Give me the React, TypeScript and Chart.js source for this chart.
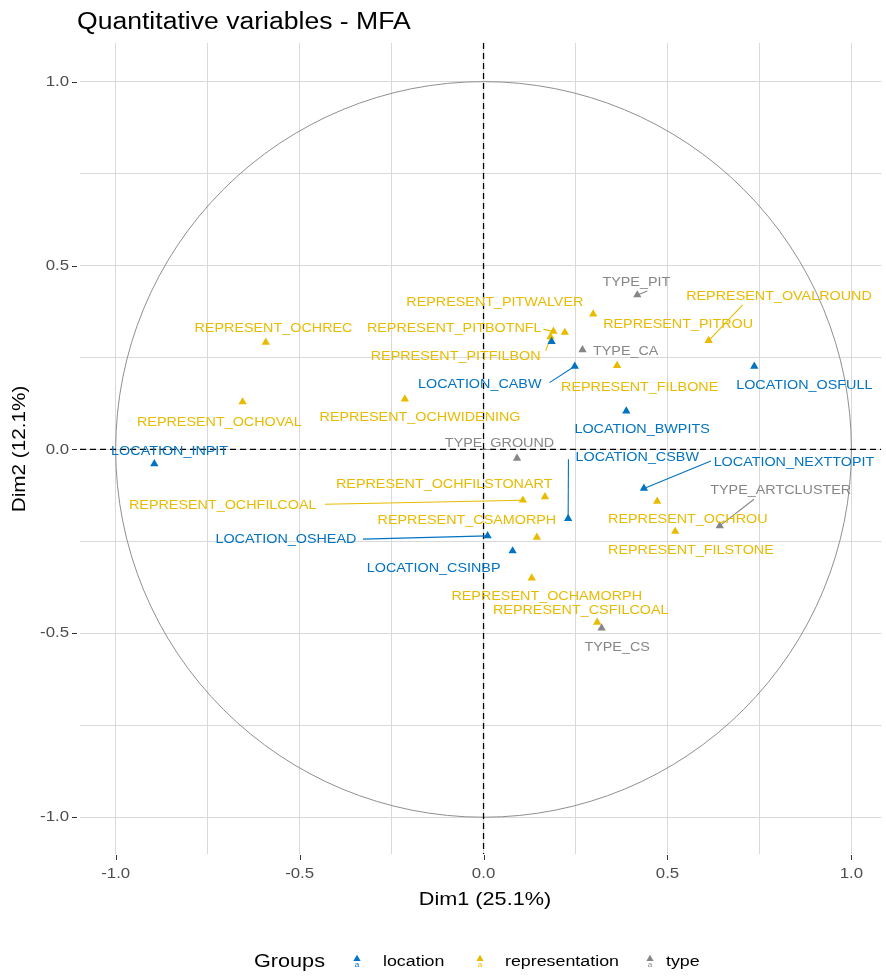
import React, { useEffect, useRef } from "react";
import { Chart, registerables } from "chart.js";

Chart.register(...registerables);

// ---------- data ----------
const locationNames = ["LOCATION_INPIT", "LOCATION_CABW", "LOCATION_OSFULL", "LOCATION_BWPITS", "LOCATION_CSBW", "LOCATION_NEXTTOPIT", "LOCATION_OSHEAD", "LOCATION_CSINBP", ""];
const locationDim1 = [-0.895, 0.248, 0.736, 0.388, 0.230, 0.436, 0.011, 0.079, 0.185];
const locationDim2 = [-0.039, 0.226, 0.226, 0.104, -0.188, -0.106, -0.235, -0.276, 0.293];

const representNames = ["REPRESENT_OCHREC", "REPRESENT_OCHOVAL", "REPRESENT_OCHWIDENING", "REPRESENT_PITWALVER", "REPRESENT_PITBOTNFL", "REPRESENT_PITFILBON", "REPRESENT_PITROU", "REPRESENT_OVALROUND", "REPRESENT_FILBONE", "REPRESENT_OCHFILSTONART", "REPRESENT_OCHFILCOAL", "REPRESENT_CSAMORPH", "REPRESENT_OCHROU", "REPRESENT_FILSTONE", "REPRESENT_OCHAMORPH", "REPRESENT_CSFILCOAL"];
const representDim1 = [-0.592, -0.655, -0.214, 0.221, 0.190, 0.182, 0.298, 0.612, 0.363, 0.167, 0.107, 0.145, 0.472, 0.521, 0.131, 0.309];
const representDim2 = [0.291, 0.129, 0.137, 0.318, 0.321, 0.306, 0.368, 0.296, 0.228, -0.129, -0.138, -0.239, -0.141, -0.223, -0.350, -0.470];

const typeNames = ["TYPE_PIT", "TYPE_CA", "TYPE_GROUND", "TYPE_ARTCLUSTER", "TYPE_CS"];
const typeDim1 = [0.418, 0.269, 0.091, 0.642, 0.321];
const typeDim2 = [0.420, 0.271, -0.024, -0.208, -0.486];

const groupNames = ["location", "representation", "type"];
const tickValues = [-1, -0.75, -0.5, -0.25, 0, 0.25, 0.5, 0.75, 1];
const majorTicks = [-1, -0.5, 0, 0.5, 1];

// ---------- layout (label placement, px offsets from the point) ----------
const labelOffsets: Record<string, [number, number]> = {
  LOCATION_INPIT: [15.3, -12],
  LOCATION_CABW: [-95, 18.3],
  LOCATION_OSFULL: [50, 19.3],
  LOCATION_BWPITS: [15.8, 18.6],
  LOCATION_CSBW: [69.1, -61],
  LOCATION_NEXTTOPIT: [150, -25.7],
  LOCATION_OSHEAD: [-201.7, 3.3],
  LOCATION_CSINBP: [-79, 17.5],
  REPRESENT_OCHREC: [7.7, -13.7],
  REPRESENT_OCHOVAL: [-23.2, 20.2],
  REPRESENT_OCHWIDENING: [15.2, 18.2],
  REPRESENT_PITWALVER: [-70, -30.2],
  REPRESENT_PITBOTNFL: [-99.2, -2.5],
  REPRESENT_PITFILBON: [-94.8, 19.7],
  REPRESENT_PITROU: [85, 10.7],
  REPRESENT_OVALROUND: [70.3, -44],
  REPRESENT_FILBONE: [22.6, 21.8],
  REPRESENT_OCHFILSTONART: [-100.8, -12.7],
  REPRESENT_OCHFILCOAL: [-300.2, 5.7],
  REPRESENT_CSAMORPH: [-70, -16.6],
  REPRESENT_OCHROU: [30.7, 18],
  REPRESENT_FILSTONE: [15.7, 19.4],
  REPRESENT_OCHAMORPH: [15, 18],
  REPRESENT_CSFILCOAL: [-16.5, -12.1],
  TYPE_PIT: [-1, -12.5],
  TYPE_CA: [43.2, 1.7],
  TYPE_GROUND: [-17.5, -14.8],
  TYPE_ARTCLUSTER: [61, -35],
  TYPE_CS: [15.5, 19],
};
const segmentEnds: Record<string, [number, number]> = {
  LOCATION_CABW: [-25.3, 16.3],
  LOCATION_CSBW: [0.3, -59.3],
  LOCATION_NEXTTOPIT: [67, -27.3],
  LOCATION_OSHEAD: [-124.7, 3.3],
  REPRESENT_OCHFILCOAL: [-198, 4],
  REPRESENT_OVALROUND: [34, -35.7],
  TYPE_ARTCLUSTER: [34.3, -26.7],
  REPRESENT_PITBOTNFL: [-10, -2],
  REPRESENT_PITFILBON: [-4.7, 14],
  TYPE_PIT: [10, -4],
};

const COLORS = ["#0073C2", "#E9BB00", "#868686"];
const FONT = "'Liberation Sans', Arial, sans-serif";

function txt(ctx: CanvasRenderingContext2D, s: string, x: number, y: number, size: number, color: string, align: CanvasTextAlign, baseline: CanvasTextBaseline = "middle", sx = 1.15, rot = 0) {
  ctx.save();
  ctx.font = `${size}px ${FONT}`;
  ctx.fillStyle = color;
  ctx.textAlign = align;
  ctx.textBaseline = baseline;
  ctx.translate(x, y);
  if (rot) ctx.rotate(rot);
  ctx.scale(sx, 1);
  ctx.fillText(s, 0, 0);
  ctx.restore();
}

function tri(ctx: CanvasRenderingContext2D, x: number, y: number, r: number, color: string) {
  ctx.save();
  ctx.fillStyle = color;
  ctx.beginPath();
  ctx.moveTo(x, y - r);
  ctx.lineTo(x + r * 0.866, y + r * 0.5);
  ctx.lineTo(x - r * 0.866, y + r * 0.5);
  ctx.closePath();
  ctx.fill();
  ctx.restore();
}

const groups = [
  { names: locationNames, xs: locationDim1, ys: locationDim2 },
  { names: representNames, xs: representDim1, ys: representDim2 },
  { names: typeNames, xs: typeDim1, ys: typeDim2 },
];

const decorPlugin = {
  id: "decor",
  beforeDatasetsDraw(chart: any) {
    const { ctx, chartArea: a, scales } = chart;
    const xs = scales.x, ys = scales.y;
    const cx = xs.getPixelForValue(0), cy = ys.getPixelForValue(0);
    ctx.save();
    ctx.beginPath();
    ctx.rect(a.left, a.top, a.right - a.left, a.bottom - a.top);
    ctx.clip();
    ctx.strokeStyle = "#8f8f8f";
    ctx.lineWidth = 1;
    ctx.beginPath();
    ctx.ellipse(cx, cy, xs.getPixelForValue(1) - cx, cy - ys.getPixelForValue(1), 0, 0, Math.PI * 2);
    ctx.stroke();
    ctx.strokeStyle = "#000";
    ctx.lineWidth = 1.3;
    ctx.setLineDash([6, 4]);
    ctx.beginPath();
    ctx.moveTo(a.left, cy);
    ctx.lineTo(a.right, cy);
    ctx.moveTo(cx, a.top);
    ctx.lineTo(cx, a.bottom);
    ctx.stroke();
    ctx.setLineDash([]);
    ctx.lineWidth = 1.1;
    groups.forEach((g, gi) => {
      g.names.forEach((n, i) => {
        const se = segmentEnds[n];
        if (!se) return;
        const px = xs.getPixelForValue(g.xs[i]);
        const py = ys.getPixelForValue(g.ys[i]);
        ctx.strokeStyle = COLORS[gi];
        ctx.beginPath();
        ctx.moveTo(px, py);
        ctx.lineTo(px + se[0], py + se[1]);
        ctx.stroke();
      });
    });
    ctx.restore();
  },
  afterDatasetsDraw(chart: any) {
    const { ctx, scales } = chart;
    const xs = scales.x, ys = scales.y;
    groups.forEach((g, gi) => {
      g.names.forEach((n, i) => {
        const off = labelOffsets[n];
        if (!n || !off) return;
        const px = xs.getPixelForValue(g.xs[i]);
        const py = ys.getPixelForValue(g.ys[i]);
        txt(ctx, n, px + off[0], py + off[1], 12.6, COLORS[gi], "center", "middle", 1.14);
      });
    });
  },
  afterDraw(chart: any) {
    const { ctx, chartArea: a, scales } = chart;
    const xs = scales.x, ys = scales.y;
    ctx.save();
    ctx.strokeStyle = "#333";
    ctx.lineWidth = 1;
    majorTicks.forEach((v) => {
      const x = Math.round(xs.getPixelForValue(v)) + 0.5;
      ctx.beginPath();
      ctx.moveTo(x, a.bottom + 1);
      ctx.lineTo(x, a.bottom + 6);
      ctx.stroke();
      const y = Math.round(ys.getPixelForValue(v)) + 0.5;
      ctx.beginPath();
      ctx.moveTo(a.left - 8, y);
      ctx.lineTo(a.left - 3, y);
      ctx.stroke();
      txt(ctx, v.toFixed(1), xs.getPixelForValue(v), a.bottom + 20, 15, "#4D4D4D", "center", "middle", 1.12);
      txt(ctx, v.toFixed(1), a.left - 11, ys.getPixelForValue(v), 15, "#4D4D4D", "right", "middle", 1.12);
    });
    ctx.restore();
    txt(ctx, "Quantitative variables - MFA", 77, 29, 23, "#000", "left", "alphabetic", 1.155);
    txt(ctx, "Dim1 (25.1%)", 485, 900, 18.5, "#000", "center", "middle", 1.17);
    txt(ctx, "Dim2 (12.1%)", 20, 449, 18.5, "#000", "center", "middle", 1.12, -Math.PI / 2);
    const ly = 962;
    txt(ctx, "Groups", 254, ly, 18.5, "#000", "left", "middle", 1.17);
    const iconX = [357, 480, 650];
    const textX = [383, 505, 666];
    groupNames.forEach((g, i) => {
      tri(ctx, iconX[i], ly - 3, 4.2, COLORS[i]);
      txt(ctx, "a", iconX[i], ly + 3, 8, COLORS[i], "center", "middle", 1);
      txt(ctx, g, textX[i], ly, 15.5, "#000", "left", "middle", 1.15);
    });
  },
};

export default function App() {
  const ref = useRef<HTMLCanvasElement | null>(null);
  useEffect(() => {
    document.body.style.margin = "0";
    const canvas = ref.current!;
    const fixTicks = (s: any) => {
      s.ticks = tickValues.map((v) => ({ value: v }));
    };
    const gridOpts = { color: "#d9d9d9", lineWidth: 1, drawTicks: false };
    const chart = new Chart(canvas, {
      type: "scatter",
      data: {
        datasets: groups.map((g, gi) => ({
          label: groupNames[gi],
          data: g.xs.map((x, i) => ({ x, y: g.ys[i] })),
          pointStyle: "triangle",
          pointRadius: 4.8,
          pointHoverRadius: 4.8,
          backgroundColor: COLORS[gi],
          borderColor: COLORS[gi],
          borderWidth: 0,
        })),
      },
      options: {
        animation: false,
        responsive: false,
        devicePixelRatio: 1,
        layout: { padding: { top: 43, right: 0, bottom: 0, left: 0 } },
        plugins: { legend: { display: false }, tooltip: { enabled: false }, title: { display: false } },
        events: [],
        scales: {
          x: {
            type: "linear",
            min: -1.097,
            max: 1.081,
            afterBuildTicks: fixTicks,
            afterFit: (s: any) => { s.height = 123; },
            ticks: { display: false },
            grid: gridOpts,
            border: { display: false },
          },
          y: {
            type: "linear",
            min: -1.1,
            max: 1.105,
            afterBuildTicks: fixTicks,
            afterFit: (s: any) => { s.width = 80; },
            ticks: { display: false },
            grid: gridOpts,
            border: { display: false },
          },
        },
      } as any,
      plugins: [decorPlugin],
    });
    return () => chart.destroy();
  }, []);
  return <canvas ref={ref} width={886} height={977} style={{ display: "block" }} />;
}
